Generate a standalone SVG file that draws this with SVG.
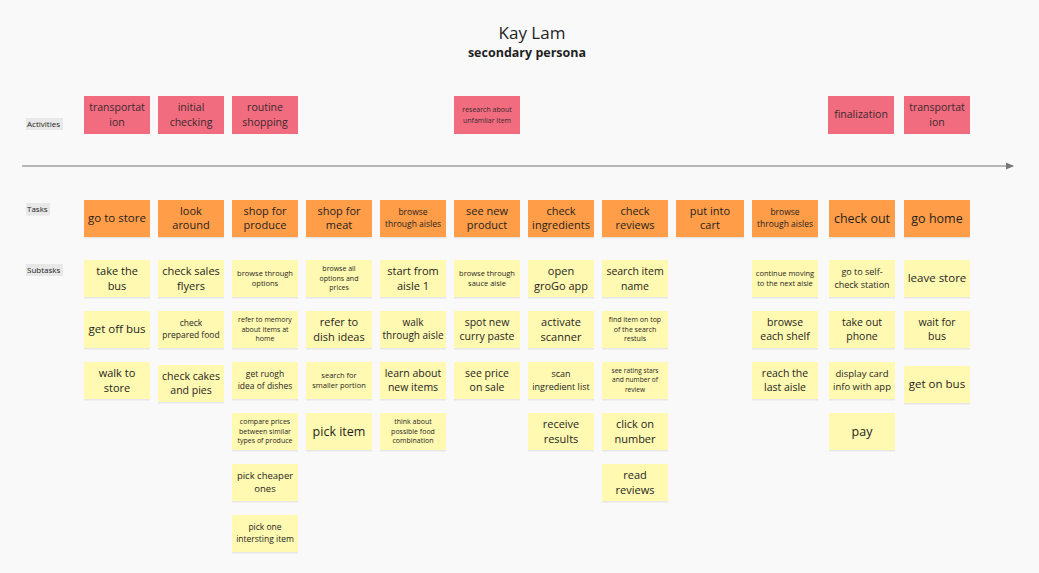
<svg xmlns="http://www.w3.org/2000/svg" width="1039" height="573" viewBox="0 0 1039 573">
<defs>
<style>
text{font-family:"Open Sans","Noto Sans","DejaVu Sans",sans-serif;fill:#1f1f1f;text-anchor:middle}
.act{fill:#f16c7f}
.task{fill:#ff9d48}
.sub{fill:#fff9b1}
.sh{fill:#000;opacity:0.07}
.lbl{fill:#e8e8e8}
.lt{font-size:8px;text-anchor:start;fill:#222}
.f125{font-size:12.5px}.f115{font-size:11.5px}.f11{font-size:11px}.f105{font-size:10.5px}.f10{font-size:10px}
.f95{font-size:9.5px}.f9{font-size:9px}.f85{font-size:8.5px}.f75{font-size:7.5px}.f7{font-size:7px}.f65{font-size:6.6px}
.at{fill:#3a2a2d}
</style>
<marker id="ah" markerWidth="8" markerHeight="8" refX="7" refY="4" orient="auto" markerUnits="userSpaceOnUse">
<path d="M0,0.5 L8,4 L0,7.5 Z" fill="#777"/>
</marker>
</defs>
<rect width="1039" height="573" fill="#faf9fa"/>

<g id="title">
<text x="532" y="38.5" style="font-size:17px">Kay Lam</text>
<text x="527" y="56.5" style="font-size:12.5px;font-weight:700">secondary persona</text>
</g>

<g id="labels">
<rect class="lbl" x="26" y="118" width="37" height="12"/><text class="lt" x="27" y="127.3">Activities</text>
<rect class="lbl" x="26" y="203" width="24" height="12.5"/><text class="lt" x="27" y="212.3">Tasks</text>
<rect class="lbl" x="26" y="264" width="37" height="12"/><text class="lt" x="27" y="273.3">Subtasks</text>
</g>

<g id="connectors">
<line x1="22" y1="166" x2="1013" y2="166" stroke="#777" stroke-width="1.2" marker-end="url(#ah)"/>
</g>

<!-- Activities -->
<g id="act-1"><rect class="act" x="84" y="96" width="66" height="38"/><text class="f105 at" x="117" y="111"><tspan x="117">transportat</tspan><tspan x="117" dy="14.5">ion</tspan></text></g>
<g id="act-2"><rect class="act" x="158" y="96" width="66" height="38"/><text class="f105 at" x="191" y="111"><tspan x="191">initial</tspan><tspan x="191" dy="14.5">checking</tspan></text></g>
<g id="act-3"><rect class="act" x="232" y="96" width="66" height="38"/><text class="f105 at" x="265" y="111"><tspan x="265">routine</tspan><tspan x="265" dy="14.5">shopping</tspan></text></g>
<g id="act-4"><rect class="act" x="454" y="96" width="66" height="38"/><text class="f7 at" x="487" y="112.2"><tspan x="487">research about</tspan><tspan x="487" dy="10.5">unfamliar item</tspan></text></g>
<g id="act-5"><rect class="act" x="828" y="96" width="66" height="38"/><text class="f105 at" x="861" y="118.4">finalization</text></g>
<g id="act-6"><rect class="act" x="904" y="96" width="66" height="38"/><text class="f105 at" x="937" y="111"><tspan x="937">transportat</tspan><tspan x="937" dy="14.5">ion</tspan></text></g>

<!-- Tasks -->
<g id="task-1"><rect class="sh" x="84" y="201.5" width="66" height="37"/><rect class="task" x="84" y="200" width="66" height="37"/><text class="f115" x="117" y="222.2">go to store</text></g>
<g id="task-2"><rect class="sh" x="158" y="201.5" width="66" height="37"/><rect class="task" x="158" y="200" width="66" height="37"/><text class="f11" x="191" y="214.6"><tspan x="191">look</tspan><tspan x="191" dy="14.7">around</tspan></text></g>
<g id="task-3"><rect class="sh" x="232" y="201.5" width="66" height="37"/><rect class="task" x="232" y="200" width="66" height="37"/><text class="f11" x="265" y="214.6"><tspan x="265">shop for</tspan><tspan x="265" dy="14.7">produce</tspan></text></g>
<g id="task-4"><rect class="sh" x="306" y="201.5" width="66" height="37"/><rect class="task" x="306" y="200" width="66" height="37"/><text class="f11" x="339" y="214.6"><tspan x="339">shop for</tspan><tspan x="339" dy="14.7">meat</tspan></text></g>
<g id="task-5"><rect class="sh" x="380" y="201.5" width="66" height="37"/><rect class="task" x="380" y="200" width="66" height="37"/><text class="f85" x="413" y="215.4"><tspan x="413">browse</tspan><tspan x="413" dy="11.7">through aisles</tspan></text></g>
<g id="task-6"><rect class="sh" x="454" y="201.5" width="66" height="37"/><rect class="task" x="454" y="200" width="66" height="37"/><text class="f11" x="487" y="214.6"><tspan x="487">see new</tspan><tspan x="487" dy="14.7">product</tspan></text></g>
<g id="task-7"><rect class="sh" x="528" y="201.5" width="66" height="37"/><rect class="task" x="528" y="200" width="66" height="37"/><text class="f11" x="561" y="214.6"><tspan x="561">check</tspan><tspan x="561" dy="14.7">ingredients</tspan></text></g>
<g id="task-8"><rect class="sh" x="602" y="201.5" width="66" height="37"/><rect class="task" x="602" y="200" width="66" height="37"/><text class="f11" x="635" y="214.6"><tspan x="635">check</tspan><tspan x="635" dy="14.7">reviews</tspan></text></g>
<g id="task-9"><rect class="sh" x="676" y="201.5" width="68" height="37"/><rect class="task" x="676" y="200" width="68" height="37"/><text class="f11" x="710" y="214.6"><tspan x="710">put into</tspan><tspan x="710" dy="14.7">cart</tspan></text></g>
<g id="task-10"><rect class="sh" x="752" y="201.5" width="66" height="37"/><rect class="task" x="752" y="200" width="66" height="37"/><text class="f85" x="785" y="215.4"><tspan x="785">browse</tspan><tspan x="785" dy="11.7">through aisles</tspan></text></g>
<g id="task-11"><rect class="sh" x="829" y="201.5" width="66" height="37"/><rect class="task" x="829" y="200" width="66" height="37"/><text class="f125" x="862" y="222.5">check out</text></g>
<g id="task-12"><rect class="sh" x="904" y="201.5" width="66" height="37"/><rect class="task" x="904" y="200" width="66" height="37"/><text class="f125" x="937" y="222.5">go home</text></g>

<!-- Subtasks column 1 -->
<g id="sub-1-1"><rect class="sh" x="84" y="261.5" width="66" height="37"/><rect class="sub" x="84" y="260" width="66" height="37"/><text class="f11" x="117" y="275.1"><tspan x="117">take the</tspan><tspan x="117" dy="14.7">bus</tspan></text></g>
<g id="sub-1-2"><rect class="sh" x="84" y="312.5" width="66" height="37"/><rect class="sub" x="84" y="311" width="66" height="37"/><text class="f115" x="117" y="333.2">get off bus</text></g>
<g id="sub-1-3"><rect class="sh" x="84" y="363.5" width="66" height="37"/><rect class="sub" x="84" y="362" width="66" height="37"/><text class="f11" x="117" y="377.1"><tspan x="117">walk to</tspan><tspan x="117" dy="14.7">store</tspan></text></g>

<!-- column 2 -->
<g id="sub-2-1"><rect class="sh" x="158" y="261.5" width="66" height="37"/><rect class="sub" x="158" y="260" width="66" height="37"/><text class="f11" x="191" y="275.1"><tspan x="191">check sales</tspan><tspan x="191" dy="14.7">flyers</tspan></text></g>
<g id="sub-2-2"><rect class="sh" x="158" y="312.5" width="66" height="37"/><rect class="sub" x="158" y="311" width="66" height="37"/><text class="f85" x="191" y="326.4"><tspan x="191">check</tspan><tspan x="191" dy="11.5">prepared food</tspan></text></g>
<g id="sub-2-3"><rect class="sh" x="158" y="366.5" width="66" height="37"/><rect class="sub" x="158" y="365" width="66" height="37"/><text class="f105" x="191" y="379.8"><tspan x="191">check cakes</tspan><tspan x="191" dy="14">and pies</tspan></text></g>

<!-- column 3 -->
<g id="sub-3-1"><rect class="sh" x="232" y="261.5" width="66" height="37"/><rect class="sub" x="232" y="260" width="66" height="37"/><text class="f75" x="265" y="275.5"><tspan x="265">browse through</tspan><tspan x="265" dy="10.7">options</tspan></text></g>
<g id="sub-3-2"><rect class="sh" x="232" y="312.5" width="66" height="37"/><rect class="sub" x="232" y="311" width="66" height="37"/><text class="f7" x="265" y="321.8"><tspan x="265">refer to memory</tspan><tspan x="265" dy="9.8">about items at</tspan><tspan x="265" dy="9.8">home</tspan></text></g>
<g id="sub-3-3"><rect class="sh" x="232" y="363.5" width="66" height="37"/><rect class="sub" x="232" y="362" width="66" height="37"/><text class="f85" x="265" y="377.4"><tspan x="265">get ruogh</tspan><tspan x="265" dy="11.5">idea of dishes</tspan></text></g>
<g id="sub-3-4"><rect class="sh" x="232" y="414.5" width="66" height="37"/><rect class="sub" x="232" y="413" width="66" height="37"/><text class="f7" x="265" y="423.8"><tspan x="265">compare prices</tspan><tspan x="265" dy="9.8">between similar</tspan><tspan x="265" dy="9.8">types of produce</tspan></text></g>
<g id="sub-3-5"><rect class="sh" x="232" y="465.5" width="66" height="37"/><rect class="sub" x="232" y="464" width="66" height="37"/><text class="f95" x="265" y="479"><tspan x="265">pick cheaper</tspan><tspan x="265" dy="12.8">ones</tspan></text></g>
<g id="sub-3-6"><rect class="sh" x="232" y="516.5" width="66" height="37"/><rect class="sub" x="232" y="515" width="66" height="37"/><text class="f85" x="265" y="530.4"><tspan x="265">pick one</tspan><tspan x="265" dy="11.4">intersting item</tspan></text></g>

<!-- column 4 -->
<g id="sub-4-1"><rect class="sh" x="306" y="261.5" width="66" height="37"/><rect class="sub" x="306" y="260" width="66" height="37"/><text class="f7" x="339" y="270.8"><tspan x="339">browse all</tspan><tspan x="339" dy="9.8">options and</tspan><tspan x="339" dy="9.8">prices</tspan></text></g>
<g id="sub-4-2"><rect class="sh" x="306" y="312.5" width="66" height="37"/><rect class="sub" x="306" y="311" width="66" height="37"/><text class="f11" x="339" y="326.1"><tspan x="339">refer to</tspan><tspan x="339" dy="14.7">dish ideas</tspan></text></g>
<g id="sub-4-3"><rect class="sh" x="306" y="363.5" width="66" height="37"/><rect class="sub" x="306" y="362" width="66" height="37"/><text class="f75" x="339" y="377.5"><tspan x="339">search for</tspan><tspan x="339" dy="10.7">smaller portion</tspan></text></g>
<g id="sub-4-4"><rect class="sh" x="306" y="414.5" width="66" height="37"/><rect class="sub" x="306" y="413" width="66" height="37"/><text class="f125" x="339" y="435.5">pick item</text></g>

<!-- column 5 -->
<g id="sub-5-1"><rect class="sh" x="380" y="261.5" width="66" height="37"/><rect class="sub" x="380" y="260" width="66" height="37"/><text class="f11" x="413" y="275.1"><tspan x="413">start from</tspan><tspan x="413" dy="14.7">aisle 1</tspan></text></g>
<g id="sub-5-2"><rect class="sh" x="380" y="312.5" width="66" height="37"/><rect class="sub" x="380" y="311" width="66" height="37"/><text class="f10" x="413" y="326.2"><tspan x="413">walk</tspan><tspan x="413" dy="12.8">through aisle</tspan></text></g>
<g id="sub-5-3"><rect class="sh" x="380" y="363.5" width="66" height="37"/><rect class="sub" x="380" y="362" width="66" height="37"/><text class="f105" x="413" y="376.9"><tspan x="413">learn about</tspan><tspan x="413" dy="14.5">new items</tspan></text></g>
<g id="sub-5-4"><rect class="sh" x="380" y="414.5" width="66" height="37"/><rect class="sub" x="380" y="413" width="66" height="37"/><text class="f7" x="413" y="423.8"><tspan x="413">think about</tspan><tspan x="413" dy="9.8">possible food</tspan><tspan x="413" dy="9.8">combination</tspan></text></g>

<!-- column 6 -->
<g id="sub-6-1"><rect class="sh" x="454" y="261.5" width="66" height="37"/><rect class="sub" x="454" y="260" width="66" height="37"/><text class="f75" x="487" y="275.5"><tspan x="487">browse through</tspan><tspan x="487" dy="10.7">sauce aisle</tspan></text></g>
<g id="sub-6-2"><rect class="sh" x="454" y="312.5" width="66" height="37"/><rect class="sub" x="454" y="311" width="66" height="37"/><text class="f105" x="487" y="325.9"><tspan x="487">spot new</tspan><tspan x="487" dy="14.5">curry paste</tspan></text></g>
<g id="sub-6-3"><rect class="sh" x="454" y="363.5" width="66" height="37"/><rect class="sub" x="454" y="362" width="66" height="37"/><text class="f105" x="487" y="376.9"><tspan x="487">see price</tspan><tspan x="487" dy="14.5">on sale</tspan></text></g>

<!-- column 7 -->
<g id="sub-7-1"><rect class="sh" x="528" y="261.5" width="66" height="37"/><rect class="sub" x="528" y="260" width="66" height="37"/><text class="f11" x="561" y="275.1"><tspan x="561">open</tspan><tspan x="561" dy="14.7">groGo app</tspan></text></g>
<g id="sub-7-2"><rect class="sh" x="528" y="312.5" width="66" height="37"/><rect class="sub" x="528" y="311" width="66" height="37"/><text class="f11" x="561" y="326.1"><tspan x="561">activate</tspan><tspan x="561" dy="14.7">scanner</tspan></text></g>
<g id="sub-7-3"><rect class="sh" x="528" y="363.5" width="66" height="37"/><rect class="sub" x="528" y="362" width="66" height="37"/><text class="f9" x="561" y="377.3"><tspan x="561">scan</tspan><tspan x="561" dy="12.4">ingredient list</tspan></text></g>
<g id="sub-7-4"><rect class="sh" x="528" y="414.5" width="66" height="37"/><rect class="sub" x="528" y="413" width="66" height="37"/><text class="f11" x="561" y="428.1"><tspan x="561">receive</tspan><tspan x="561" dy="14.7">results</tspan></text></g>

<!-- column 8 -->
<g id="sub-8-1"><rect class="sh" x="602" y="261.5" width="66" height="37"/><rect class="sub" x="602" y="260" width="66" height="37"/><text class="f105" x="635" y="275.1"><tspan x="635">search item</tspan><tspan x="635" dy="14.6">name</tspan></text></g>
<g id="sub-8-2"><rect class="sh" x="602" y="312.5" width="66" height="37"/><rect class="sub" x="602" y="311" width="66" height="37"/><text class="f7" x="635" y="321.8"><tspan x="635">find item on top</tspan><tspan x="635" dy="9.8">of the search</tspan><tspan x="635" dy="9.8">restuls</tspan></text></g>
<g id="sub-8-3"><rect class="sh" x="602" y="363.5" width="66" height="37"/><rect class="sub" x="602" y="362" width="66" height="37"/><text class="f65" x="635" y="372.6"><tspan x="635">see rating stars</tspan><tspan x="635" dy="9.8">and number of</tspan><tspan x="635" dy="9.8">review</tspan></text></g>
<g id="sub-8-4"><rect class="sh" x="602" y="414.5" width="66" height="37"/><rect class="sub" x="602" y="413" width="66" height="37"/><text class="f11" x="635" y="428.1"><tspan x="635">click on</tspan><tspan x="635" dy="14.7">number</tspan></text></g>
<g id="sub-8-5"><rect class="sh" x="602" y="465.5" width="66" height="37"/><rect class="sub" x="602" y="464" width="66" height="37"/><text class="f11" x="635" y="479.1"><tspan x="635">read</tspan><tspan x="635" dy="14.7">reviews</tspan></text></g>

<!-- column 10 -->
<g id="sub-10-1"><rect class="sh" x="752" y="261.5" width="66" height="37"/><rect class="sub" x="752" y="260" width="66" height="37"/><text class="f75" x="785" y="275.5"><tspan x="785">continue moving</tspan><tspan x="785" dy="10.2">to the next aisle</tspan></text></g>
<g id="sub-10-2"><rect class="sh" x="752" y="312.5" width="66" height="37"/><rect class="sub" x="752" y="311" width="66" height="37"/><text class="f105" x="785" y="325.9"><tspan x="785">browse</tspan><tspan x="785" dy="14.5">each shelf</tspan></text></g>
<g id="sub-10-3"><rect class="sh" x="752" y="363.5" width="66" height="37"/><rect class="sub" x="752" y="362" width="66" height="37"/><text class="f105" x="785" y="376.9"><tspan x="785">reach the</tspan><tspan x="785" dy="14.5">last aisle</tspan></text></g>

<!-- column 11 -->
<g id="sub-11-1"><rect class="sh" x="829" y="261.5" width="66" height="37"/><rect class="sub" x="829" y="260" width="66" height="37"/><text class="f9" x="862" y="275.3"><tspan x="862">go to self-</tspan><tspan x="862" dy="12.3">check station</tspan></text></g>
<g id="sub-11-2"><rect class="sh" x="829" y="312.5" width="66" height="37"/><rect class="sub" x="829" y="311" width="66" height="37"/><text class="f105" x="862" y="325.9"><tspan x="862">take out</tspan><tspan x="862" dy="14.5">phone</tspan></text></g>
<g id="sub-11-3"><rect class="sh" x="829" y="363.5" width="66" height="37"/><rect class="sub" x="829" y="362" width="66" height="37"/><text class="f95" x="862" y="377"><tspan x="862">display card</tspan><tspan x="862" dy="13">info with app</tspan></text></g>
<g id="sub-11-4"><rect class="sh" x="829" y="414.5" width="66" height="37"/><rect class="sub" x="829" y="413" width="66" height="37"/><text class="f125" x="862" y="435.5">pay</text></g>

<!-- column 12 -->
<g id="sub-12-1"><rect class="sh" x="904" y="261.5" width="66" height="37"/><rect class="sub" x="904" y="260" width="66" height="37"/><text class="f115" x="937" y="282.2">leave store</text></g>
<g id="sub-12-2"><rect class="sh" x="904" y="312.5" width="66" height="37"/><rect class="sub" x="904" y="311" width="66" height="37"/><text class="f105" x="937" y="325.9"><tspan x="937">wait for</tspan><tspan x="937" dy="14.5">bus</tspan></text></g>
<g id="sub-12-3"><rect class="sh" x="904" y="367.5" width="66" height="37"/><rect class="sub" x="904" y="366" width="66" height="37"/><text class="f115" x="937" y="388.2">get on bus</text></g>
</svg>
